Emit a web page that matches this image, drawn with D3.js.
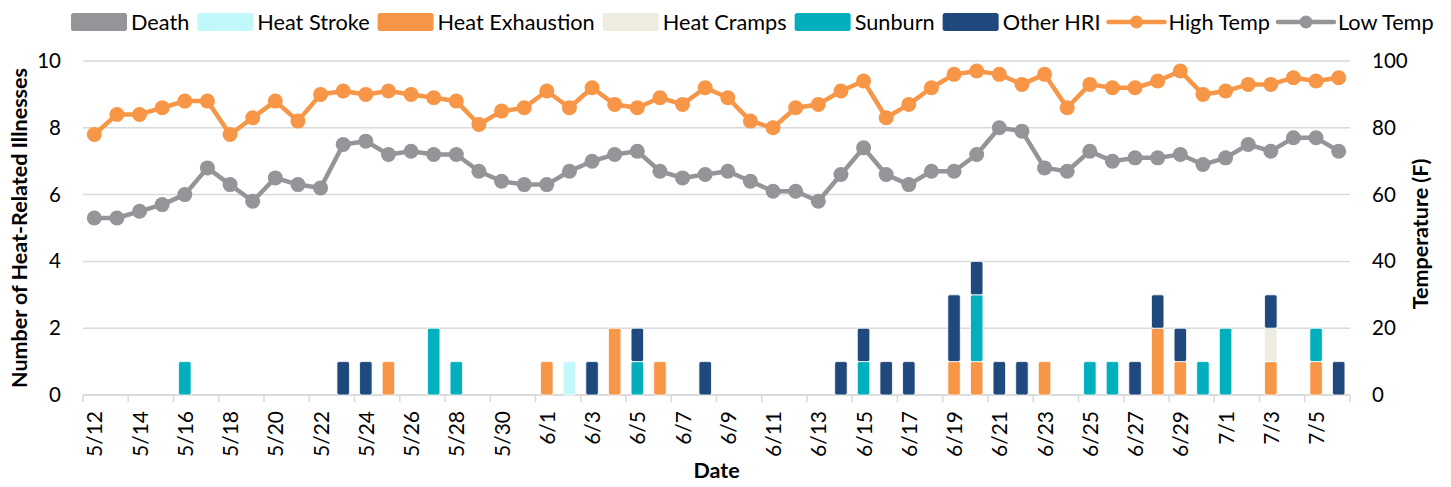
<!DOCTYPE html>
<html>
<head>
<meta charset="utf-8">
<script src="https://cdn.jsdelivr.net/npm/d3@7"></script>
<style>
  body { margin: 0; background: #fff; }
  svg { font-family: Lato, "Open Sans", sans-serif; }
</style>
</head>
<body>
<svg id="chart"></svg>
<script>
// Dates (5/12 - 7/6)
const dates = ["5/12","5/13","5/14","5/15","5/16","5/17","5/18","5/19","5/20","5/21",
  "5/22","5/23","5/24","5/25","5/26","5/27","5/28","5/29","5/30","5/31",
  "6/1","6/2","6/3","6/4","6/5","6/6","6/7","6/8","6/9","6/10",
  "6/11","6/12","6/13","6/14","6/15","6/16","6/17","6/18","6/19","6/20",
  "6/21","6/22","6/23","6/24","6/25","6/26","6/27","6/28","6/29","6/30",
  "7/1","7/2","7/3","7/4","7/5","7/6"]

const highTemp = [78,84,84,86,88,88,78,83,88,82,
  90,91,90,91,90,89,88,81,85,86,
  91,86,92,87,86,89,87,92,89,82,
  80,86,87,91,94,83,87,92,96,97,
  96,93,96,86,93,92,92,94,97,90,
  91,93,93,95,94,95]

const lowTemp = [53,53,55,57,60,68,63,58,65,63,
  62,75,76,72,73,72,72,67,64,63,
  63,67,70,72,73,67,65,66,67,64,
  61,61,58,66,74,66,63,67,67,72,
  80,79,68,67,73,70,71,71,72,69,
  71,75,73,77,77,73]

// Illness counts by date: [date, count]
const death = []
const heatStroke = [["6/2",1]]
const heatExhaustion = [["5/25",1],["6/1",1],["6/4",2],["6/6",1],["6/19",1],["6/20",1],
  ["6/23",1],["6/28",2],["6/29",1],["7/3",1],["7/5",1]]
const heatCramps = [["7/3",1]]
const sunburn = [["5/16",1],["5/27",2],["5/28",1],["6/5",1],["6/15",1],["6/20",2],
  ["6/25",1],["6/26",1],["6/30",1],["7/1",2],["7/5",1]]
const otherHRI = [["5/23",1],["5/24",1],["6/3",1],["6/5",1],["6/8",1],["6/14",1],
  ["6/15",1],["6/16",1],["6/17",1],["6/19",2],["6/20",1],["6/21",1],["6/22",1],
  ["6/27",1],["6/28",1],["6/29",1],["7/3",1],["7/6",1]]

const leftTicks = [0,2,4,6,8,10]
const rightTicks = [0,20,40,60,80,100]

const barSeries = [
  {name: "Death", data: death, color: "#939598"},
  {name: "Heat Stroke", data: heatStroke, color: "#c3f8fb"},
  {name: "Heat Exhaustion", data: heatExhaustion, color: "#f79646"},
  {name: "Heat Cramps", data: heatCramps, color: "#eeece1"},
  {name: "Sunburn", data: sunburn, color: "#02b0bd"},
  {name: "Other HRI", data: otherHRI, color: "#1f497d"}
]
const lineSeries = [
  {name: "High Temp", data: highTemp, color: "#f79646"},
  {name: "Low Temp", data: lowTemp, color: "#939598"}
]

// Build table for stacking
const table = dates.map(d => {
  const row = {date: d}
  barSeries.forEach(s => {
    const hit = s.data.find(p => p[0] === d)
    row[s.name] = hit ? hit[1] : 0
  })
  return row
})

const W = 1451, H = 487
const margin = {top: 61, right: 101, bottom: 92, left: 83}
const width = W - margin.left - margin.right
const height = H - margin.top - margin.bottom

const svg = d3.select("#chart").attr("width", W).attr("height", H)
const g = svg.append("g").attr("transform", "translate(" + margin.left + "," + margin.top + ")")

const x = d3.scaleBand().domain(dates).range([0, width])
const yL = d3.scaleLinear().domain([0, 10]).range([height, 0])
const yR = d3.scaleLinear().domain([0, 100]).range([height, 0])

// Gridlines
g.append("g")
  .selectAll("line")
  .data(leftTicks)
  .join("line")
  .attr("x1", 0).attr("x2", width)
  .attr("y1", d => yL(d)).attr("y2", d => yL(d))
  .attr("stroke", "#d9d9d9").attr("stroke-width", 1.5)

// Left axis
const leftAxis = g.append("g")
  .call(d3.axisLeft(yL).tickValues(leftTicks).tickSize(0).tickPadding(22))
leftAxis.select(".domain").remove()
leftAxis.selectAll("text").attr("font-size", "20.5px").attr("fill", "#000").attr("font-family", "Lato, sans-serif")

// Right axis
const rightAxis = g.append("g")
  .attr("transform", "translate(" + width + ",0)")
  .call(d3.axisRight(yR).tickValues(rightTicks).tickSize(0).tickPadding(22))
rightAxis.select(".domain").remove()
rightAxis.selectAll("text").attr("font-size", "20.5px").attr("fill", "#000").attr("font-family", "Lato, sans-serif")

// X axis
const xAxis = g.append("g")
  .attr("transform", "translate(0," + height + ")")
xAxis.append("line").attr("x1", 0).attr("x2", width).attr("stroke", "#d9d9d9").attr("stroke-width", 1.5)
xAxis.selectAll(".tk")
  .data(dates.filter((d, i) => i % 2 === 0).concat(["end"]))
  .join("line")
  .attr("x1", d => d === "end" ? width : x(d))
  .attr("x2", d => d === "end" ? width : x(d))
  .attr("y1", 0).attr("y2", 7)
  .attr("stroke", "#d9d9d9").attr("stroke-width", 1.5)
xAxis.selectAll("text")
  .data(dates.filter((d, i) => i % 2 === 0))
  .join("text")
  .attr("transform", d => "translate(" + (x(d) + x.bandwidth() / 2 + 8) + ",16) rotate(-90)")
  .attr("text-anchor", "end")
  .attr("font-size", "21px")
  .text(d => d)

// Stacked bars
const stack = d3.stack().keys(barSeries.map(s => s.name))
const layers = stack(table)
const barW = 12.5
g.append("g").selectAll("g")
  .data(layers)
  .join("g")
  .attr("fill", (d, i) => barSeries[i].color)
  .selectAll("rect")
  .data(d => d.filter(v => v[1] - v[0] > 0))
  .join("rect")
  .attr("x", d => x(d.data.date) + x.bandwidth() / 2 - barW / 2)
  .attr("y", d => yL(d[1]))
  .attr("width", barW)
  .attr("height", d => yL(d[0]) - yL(d[1]))
  .attr("rx", 2)
  .attr("stroke", "#fff").attr("stroke-width", 0.8)

// Temperature lines
const line = d3.line()
  .x((d, i) => x(dates[i]) + x.bandwidth() / 2)
  .y(d => yR(d))

lineSeries.forEach(s => {
  g.append("path")
    .datum(s.data)
    .attr("d", line)
    .attr("fill", "none")
    .attr("stroke", s.color)
    .attr("stroke-width", 4.5)
    .attr("stroke-linejoin", "round")
  g.append("g").selectAll("circle")
    .data(s.data)
    .join("circle")
    .attr("cx", (d, i) => x(dates[i]) + x.bandwidth() / 2)
    .attr("cy", d => yR(d))
    .attr("r", 7.5)
    .attr("fill", s.color)
})

// Axis titles
svg.append("text")
  .attr("transform", "translate(27," + (margin.top + height / 2) + ") rotate(-90)")
  .attr("text-anchor", "middle")
  .attr("font-size", "21.5px").attr("font-weight", "bold")
  .text("Number of Heat-Related Illnesses")

svg.append("text")
  .attr("transform", "translate(1428," + (margin.top + height / 2 + 6) + ") rotate(-90)")
  .attr("text-anchor", "middle")
  .attr("font-size", "21.5px").attr("font-weight", "bold")
  .text("Temperature (F)")

svg.append("text")
  .attr("x", margin.left + width / 2)
  .attr("y", 478)
  .attr("text-anchor", "middle")
  .attr("font-size", "21.5px").attr("font-weight", "bold")
  .text("Date")

// Legend
const legend = svg.append("g")
let lx = 71
const ly = 22
barSeries.concat(lineSeries).forEach((s, i) => {
  const item = legend.append("g")
  if (i < barSeries.length) {
    item.append("rect")
      .attr("x", lx).attr("y", ly - 9)
      .attr("width", 56).attr("height", 18)
      .attr("rx", 2.5)
      .attr("fill", s.color)
  } else {
    item.append("line")
      .attr("x1", lx).attr("x2", lx + 56)
      .attr("y1", ly).attr("y2", ly)
      .attr("stroke", s.color).attr("stroke-width", 4.5)
      .attr("stroke-linecap", "round")
    item.append("circle")
      .attr("cx", lx + 28).attr("cy", ly).attr("r", 6.5)
      .attr("fill", s.color)
  }
  const t = item.append("text")
    .attr("x", lx + 60).attr("y", ly)
    .attr("dy", "0.35em")
    .attr("font-size", "21.7px")
    .text(s.name)
  lx += 60 + t.node().getComputedTextLength() + 8
})
</script>
</body>
</html>
